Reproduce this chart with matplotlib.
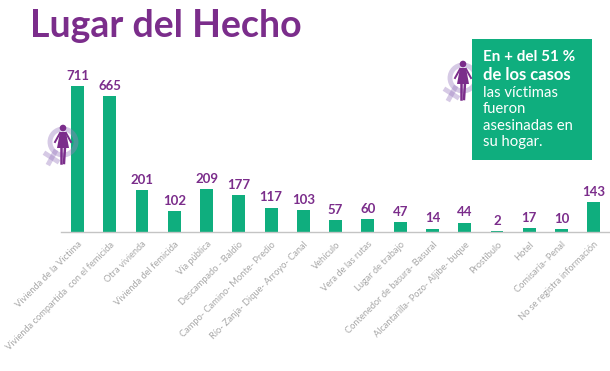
import matplotlib
matplotlib.use("Agg")
import matplotlib.pyplot as plt
from matplotlib.patches import Circle, Polygon, Rectangle

categories = ["Vivienda de la Victima", "Vivienda compartida  con el femicida", "Otra vivienda",
              "Vivienda del femicida", "Vía pública", "Descampado - Baldío",
              "Campo- Camino- Monte- Predio", "Río- Zanja- Dique- Arroyo- Canal", "Vehículo",
              "Vera de las rutas", "Lugar de trabajo", "Contenedor de basura- Basural",
              "Alcantarilla- Pozo- Aljibe- buque", "Prostíbulo", "Hotel", "Comisaría- Penal",
              "No se registra información"]
values = [711, 665, 201, 102, 209, 177, 117, 103, 57, 60, 47, 14, 44, 2, 17, 10, 143]

GREEN = "#0fae7e"
PURPLE = "#7b2d8b"
LILAC = "#9a7cc0"
W, H = 610, 371

plt.rcParams["font.family"] = ["Lato", "DejaVu Sans"]

fig = plt.figure(figsize=(W / 100, H / 100), dpi=100, facecolor="white")

ax = fig.add_axes([61 / W, 1 - 231.5 / H, 549 / W, 191.5 / H])
x = list(range(len(values)))
ax.bar(x, values, width=0.4, color=GREEN)
ax.set_xlim(-0.51, 16.5)
ax.set_ylim(0, 191.5 / 0.204)
for i, v in zip(x, values):
    ax.annotate(str(v), (i, v), xytext=(0, 3), textcoords="offset points", ha="center", va="bottom",
                fontsize=9.5, fontweight="bold", color=PURPLE)

for s in ["top", "right", "left"]:
    ax.spines[s].set_visible(False)
ax.spines["bottom"].set_color("#c4c4c4")
ax.spines["bottom"].set_linewidth(1)
ax.set_yticks([])
ax.set_xticks(x)
ax.set_xticklabels(categories, rotation=45, ha="right", rotation_mode="anchor",
                   fontsize=6.7, color="#a8a8a8")
ax.tick_params(axis="x", length=0, pad=6)

# overlay in pixel coordinates for title, callout and icons
top = fig.add_axes([0, 0, 1, 1])
top.patch.set_alpha(0)
top.set_xlim(0, W)
top.set_ylim(H, 0)
top.axis("off")

top.text(30, 26, "Lugar del Hecho", fontsize=27, fontweight="bold", color=PURPLE, ha="left", va="center")


def woman_icon(cx, cy):
    # venus ring with cross behind, small figure in front
    top.add_patch(Circle((cx, cy), 13, fill=False, ec=LILAC, lw=3.5, alpha=0.4, zorder=1))
    top.plot([cx - 8, cx - 14], [cy + 10, cy + 21], color=LILAC, lw=3.5, alpha=0.4, zorder=1)
    top.plot([cx - 17, cx - 6], [cy + 12, cy + 19], color=LILAC, lw=3.5, alpha=0.4, zorder=1)
    top.add_patch(Circle((cx, cy - 14), 3.3, color=PURPLE, lw=0, zorder=4))
    top.add_patch(Polygon([(cx - 3, cy - 10), (cx + 3, cy - 10), (cx + 6, cy + 6), (cx - 6, cy + 6)],
                          color=PURPLE, lw=0, zorder=4))
    top.plot([cx - 3, cx - 8], [cy - 9, cy], color=PURPLE, lw=1.4, zorder=4)
    top.plot([cx + 3, cx + 8], [cy - 9, cy], color=PURPLE, lw=1.4, zorder=4)
    top.plot([cx - 2, cx - 2], [cy + 5, cy + 21], color=PURPLE, lw=1.8, zorder=4)
    top.plot([cx + 2, cx + 1], [cy + 5, cy + 21], color=PURPLE, lw=1.8, zorder=4)


woman_icon(63, 142)
woman_icon(463, 78)

# callout box
top.add_patch(Rectangle((472, 39), 120, 121, color=GREEN, lw=0, zorder=2))
top.text(483, 57, "En + del 51 %", fontsize=11, fontweight="bold", color="white", va="center", zorder=3)
top.text(483, 75, "de los casos", fontsize=12, fontweight="bold", color="white", va="center", zorder=3)
for y, line in zip([93, 109, 126, 142], ["las víctimas", "fueron", "asesinadas en", "su hogar."]):
    top.text(483, y, line, fontsize=10.7, color="white", va="center", zorder=3)

top.set_xlim(0, W)
top.set_ylim(H, 0)

fig.savefig("out.png", dpi=100)
